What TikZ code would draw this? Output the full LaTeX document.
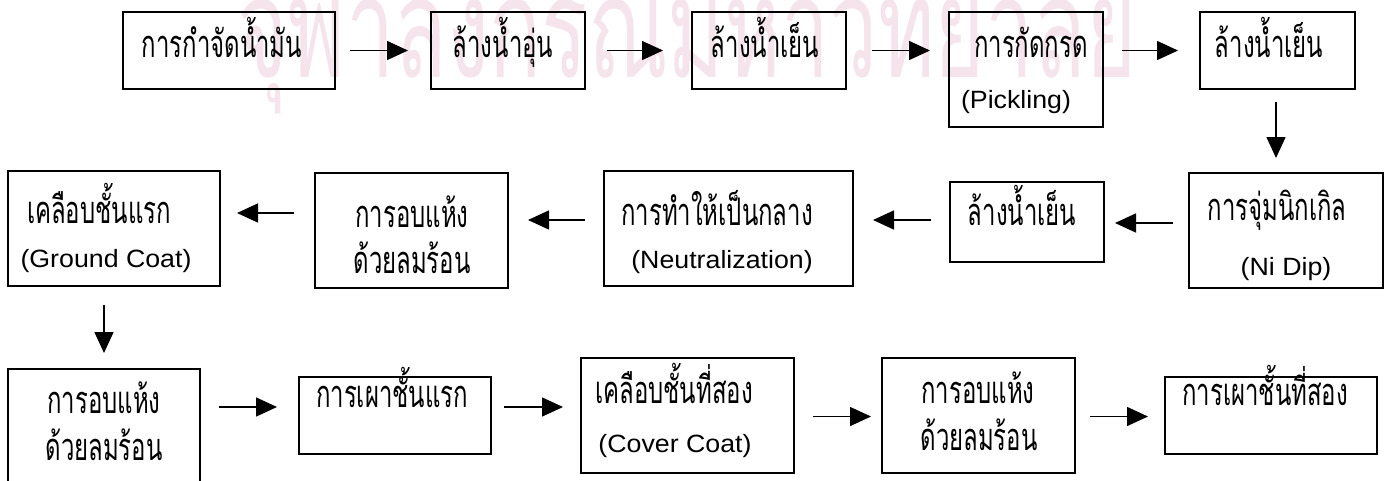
\documentclass[tikz,border=0pt]{standalone}
\usepackage{fontspec}
\usepackage{graphicx}
\setmainfont{Liberation Sans}
\newfontfamily\thaifont[Script=Thai]{Loma}
\usetikzlibrary{arrows.meta,calc}
\definecolor{wm}{RGB}{246,228,237}
\newcommand\thl[1]{\scalebox{0.63}[1]{\thaifont\fontsize{38}{38}\selectfont #1}}
\newcommand\enl[1]{\scalebox{1.07}[1]{\fontsize{25}{25}\selectfont #1}}
\newcommand\bx[5]{\node[box, minimum width={(#4-#2)*1pt}, minimum height={(#5-#3)*1pt}] (#1) at ({(#2+#4)/2},{(#3+#5)/2}) {};}
\tikzset{
 box/.style={draw=black, line width=1.5pt, rectangle, inner sep=0pt, outer sep=0pt},
 flow/.style={line width=1.5pt, -{Triangle[length=21pt,width=19pt]}},
 lbl/.style={anchor=base, inner sep=0pt},
}
\begin{document}
\begin{tikzpicture}[x=1pt,y=-1pt]
\useasboundingbox (0,0) rectangle (1388,480);
\clip (0,0) rectangle (1388,480);
% watermark
\node[anchor=base west, inner sep=0pt, text=wm] (wmk) at (237,77) {\scalebox{0.615}[1]{\thaifont\fontsize{140}{140}\selectfont จุฬาลงกรณ์มหาวิทยาลัย}};
% boxes
\bx{b1}{123}{12}{335}{89}
\bx{b2}{431}{12}{585}{89}
\bx{b3}{692}{12}{846}{89}
\bx{b4}{949}{12}{1103}{127}
\bx{b5}{1200}{12}{1355}{89}
\bx{b6}{1189}{173}{1383}{288}
\bx{b7}{950}{182}{1104}{262}
\bx{b8}{604}{171}{853}{286}
\bx{b9}{315}{173}{508}{288}
\bx{b10}{8}{171}{220}{286}
\bx{b11}{8}{369}{200}{486}
\bx{b12}{299}{377}{491}{454}
\bx{b13}{581}{358}{794}{473}
\bx{b14}{882}{358}{1075}{473}
\bx{b15}{1165}{377}{1377}{454}
% labels
\node[lbl] (t1) at (222,57) {\thl{การกำจัดน้ำมัน}};
\node[lbl] (t2) at (503,57) {\thl{ล้างน้ำอุ่น}};
\node[lbl] (t3) at (765,57) {\thl{ล้างน้ำเย็น}};
\node[lbl] (t4a) at (1031,57) {\thl{การกัดกรด}};
\node[lbl] (t4b) at (1016,108) {\enl{(Pickling)}};
\node[lbl] (t5) at (1269,57) {\thl{ล้างน้ำเย็น}};
\node[lbl] (t6a) at (1277,220) {\thl{การจุ่มนิกเกิล}};
\node[lbl] (t6b) at (1286,275) {\enl{(Ni Dip)}};
\node[lbl] (t7) at (1022,225) {\thl{ล้างน้ำเย็น}};
\node[lbl] (t8a) at (717,225) {\thl{การทำให้เป็นกลาง}};
\node[lbl] (t8b) at (722,268) {\enl{(Neutralization)}};
\node[lbl] (t9a) at (412,227) {\thl{การอบแห้ง}};
\node[lbl] (t9b) at (412,273) {\thl{ด้วยลมร้อน}};
\node[lbl] (t10a) at (99,223) {\thl{เคลือบชั้นแรก}};
\node[lbl] (t10b) at (106,267) {\enl{(Ground Coat)}};
\node[lbl] (t11a) at (104,413) {\thl{การอบแห้ง}};
\node[lbl] (t11b) at (104,460) {\thl{ด้วยลมร้อน}};
\node[lbl] (t12) at (392,407) {\thl{การเผาชั้นแรก}};
\node[lbl] (t13a) at (674,403) {\thl{เคลือบชั้นที่สอง}};
\node[lbl] (t13b) at (675,452) {\enl{(Cover Coat)}};
\node[lbl] (t14a) at (978,403) {\thl{การอบแห้ง}};
\node[lbl] (t14b) at (979,450) {\thl{ด้วยลมร้อน}};
\node[lbl] (t15) at (1265,405) {\thl{การเผาชั้นที่สอง}};
% arrows
\draw[flow] ($(b1.east)+(15,0)$) -- ($(b2.west)+(-23,0)$);
\draw[flow] ($(b2.east)+(22,0)$) -- ($(b3.west)+(-29,0)$);
\draw[flow] ($(b3.east)+(26,0)$) -- ($(b3.east -| b4.west)+(-19,0)$);
\draw[flow] ($(b5.west -| b4.east)+(19,0)$) -- ($(b5.west)+(-22,0)$);
\draw[flow] ($(b5.south)+(-1.5,13)$) -- ($(b5.south |- b6.north)+(-1.5,-15)$);
\draw[flow] ($(b7.east -| b6.west)+(-16,1)$) -- ($(b7.east)+(11,1)$);
\draw[flow] ($(b7.west)+(-19,-2)$) -- ($(b7.west -| b8.east)+(20,-2)$);
\draw[flow] ($(b8.west)+(-19,-8.5)$) -- ($(b8.west -| b9.east)+(20,-8.5)$);
\draw[flow] ($(b9.west)+(-21,-17.5)$) -- ($(b9.west -| b10.east)+(17,-17.5)$);
\draw[flow] ($(b11.north |- b10.south)+(0,19)$) -- ($(b11.north)+(0,-16)$);
\draw[flow] ($(b12.west -| b11.east)+(19,-8.5)$) -- ($(b12.west)+(-22,-8.5)$);
\draw[flow] ($(b12.east)+(13,-8.5)$) -- ($(b12.east -| b13.west)+(-18,-8.5)$);
\draw[flow] ($(b13.east)+(19,1)$) -- ($(b14.west)+(-11,1)$);
\draw[flow] ($(b14.east)+(15,1)$) -- ($(b15.west)+(-17,1)$);
\end{tikzpicture}
\end{document}
